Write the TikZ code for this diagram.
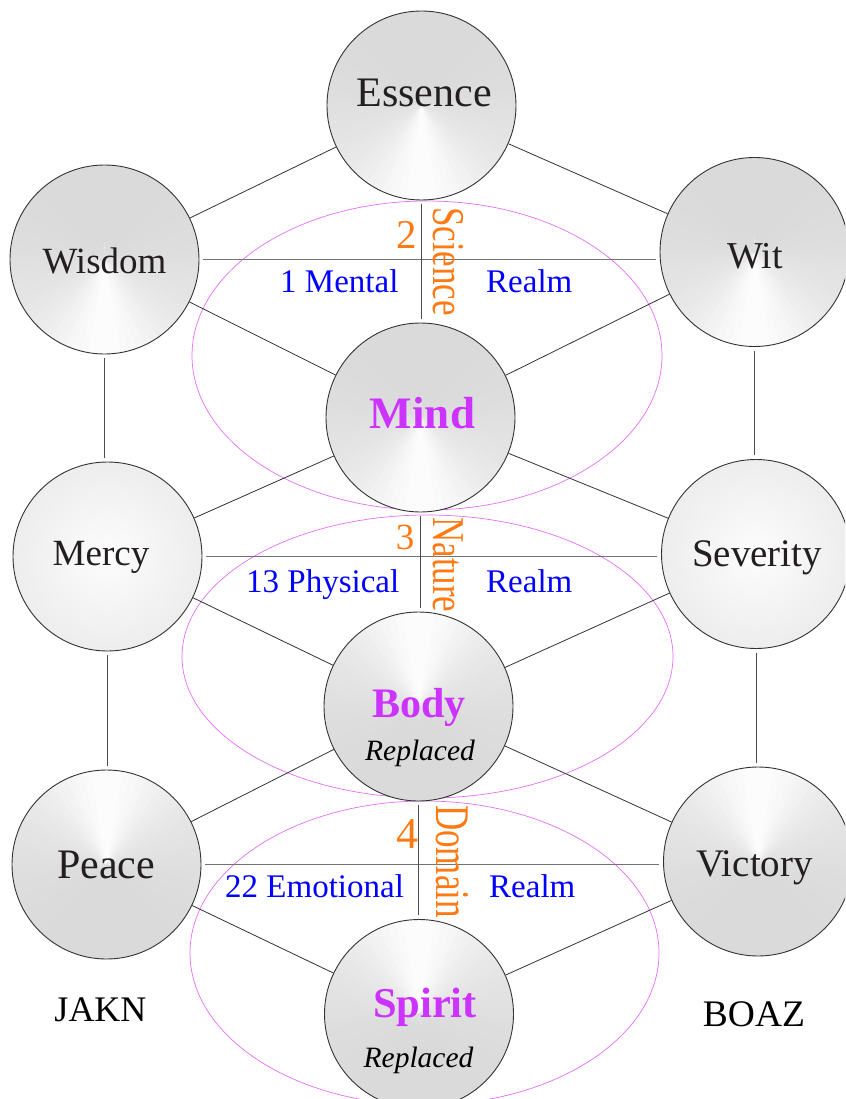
\documentclass[tikz,border=0pt]{standalone}
\usepackage{fontspec}
\setmainfont{Liberation Serif}
\usepackage{graphicx}
\usetikzlibrary{shapes.geometric}
\pgfdeclarelayer{background}
\pgfdeclarelayer{fills}
\pgfsetlayers{background,fills,main}
\definecolor{mag}{RGB}{204,51,255}
\definecolor{ellc}{RGB}{228,110,246}
\definecolor{blu}{RGB}{0,0,255}
\definecolor{org}{RGB}{255,122,20}
\definecolor{txt}{RGB}{35,31,32}
\pgfdeclareradialshading{softrad}{\pgfpoint{0bp}{0bp}}{color(0bp)=(white!99!black); color(50bp)=(white!87!black)}
% conical fill: #1 node name, #2 angle (picture coordinates) of the bright streak
\newcommand\conefill[2]{%
  \foreach \a in {0,5,...,355}{%
    \pgfmathsetmacro\cc{(1+cos(\a+2.5-#2))/2}%
    \pgfmathsetmacro\g{85.5+8*\cc^2+5.5*\cc^12}%
    \fill[white!\g!black] (#1.center) -- ++(\a:94.5) arc[start angle=\a, end angle=\a+5.8, radius=94.5] -- cycle;
  }}
\begin{document}
\begin{tikzpicture}[x=1pt,y=-1pt,
  ball/.style={circle, draw=black!80, line width=0.9pt, minimum size=189pt, inner sep=0pt},
  brad/.style={ball, shade, shading=softrad},
  link/.style={draw=black!80, line width=0.8pt},
  hlink/.style={draw=black!55, line width=1.1pt, shorten <=4pt, shorten >=4pt},
  vlink/.style={draw=black!70, line width=0.9pt, shorten <=4pt, shorten >=4pt},
  realm/.style={ellipse, draw=ellc, line width=0.7pt, inner sep=0pt},
  tx/.style={inner sep=0pt, anchor=base, text=txt},
  nm/.style={inner sep=0pt, anchor=base, text=mag, font=\bfseries},
  rp/.style={inner sep=0pt, anchor=base, text=black, font=\itshape\fontsize{29.5}{34}\selectfont},
  bl/.style={inner sep=0pt, anchor=base west, text=blu, font=\fontsize{33}{38}\selectfont},
  num/.style={inner sep=0pt, anchor=base, text=org},
  rot/.style={inner sep=0pt, anchor=base west, rotate=-90, text=org, font=\fontsize{35}{40}\selectfont}
]
\useasboundingbox (0,0) rectangle (845,1099);
\clip (0,0) rectangle (845,1099);

% circles
\node[ball] (Essence) at (421.5,105.5) {};
\node[ball] (Wisdom) at (104.5,259.5) {};
\node[ball] (Wit) at (754.5,252) {};
\node[ball] (Mind) at (420.5,417.5) {};
\node[brad] (Mercy) at (107.5,556.5) {};
\node[brad] (Severity) at (756,554) {};
\node[ball] (Body) at (418.5,706.5) {};
\node[ball] (Peace) at (106.5,864.5) {};
\node[ball] (Victory) at (758,861.5) {};
\node[ball] (Spirit) at (419,1014) {};

\begin{pgfonlayer}{fills}
\conefill{Essence}{90}
\conefill{Wisdom}{90}
\conefill{Wit}{90}
\conefill{Mind}{90}
\conefill{Body}{270}
\conefill{Peace}{270}
\conefill{Victory}{270}
\conefill{Spirit}{270}
\end{pgfonlayer}

\begin{pgfonlayer}{background}
% realm ellipses
\node[realm, minimum width=470pt, minimum height=309pt] (realmA) at (427,355.5) {};
\node[realm, minimum width=491pt, minimum height=283pt] (realmB) at (427.5,656.5) {};
\node[realm, minimum width=469pt, minimum height=304pt] (realmC) at (424.5,953) {};
% diagonal links
\draw[link] (Essence) -- (Wisdom);
\draw[link] (Essence) -- (Wit);
\draw[link] (Wisdom) -- (Mind);
\draw[link] (Wit) -- (Mind);
\draw[link] (Mind) -- (Mercy);
\draw[link] (Mind) -- (Severity);
\draw[link] (Mercy) -- (Body);
\draw[link] (Severity) -- (Body);
\draw[link] (Body) -- (Peace);
\draw[link] (Body) -- (Victory);
\draw[link] (Peace) -- (Spirit);
\draw[link] (Victory) -- (Spirit);
% horizontal links
\draw[hlink] (Wisdom.east) -- (Wisdom.east -| Wit.west);
\draw[hlink] (Mercy.east) -- (Mercy.east -| Severity.west);
\draw[hlink] (Peace.east) -- (Peace.east -| Victory.west);
% vertical links
\draw[vlink] (Essence.south) -- (Essence.south |- Mind.north);
\draw[vlink] (Mind.south) -- (Mind.south |- Body.north);
\draw[vlink] (Body.south) -- (Body.south |- Spirit.north);
\draw[vlink] (Wisdom.south) -- (Wisdom.south |- Mercy.north);
\draw[vlink] (Mercy.south) -- (Mercy.south |- Peace.north);
\draw[vlink] (Wit.south) -- (Wit.south |- Severity.north);
\draw[vlink] (Severity.south) -- (Severity.south |- Victory.north);
\end{pgfonlayer}

% circle texts
\node[tx, font=\fontsize{42}{48}\selectfont] (tEssence) at (424,107) {Essence};
\node[tx, font=\fontsize{37}{42}\selectfont] (tWisdom) at (104.5,273) {Wisdom};
\node[tx, font=\fontsize{38}{44}\selectfont] (tWit) at (755,268) {Wit};
\node[nm, font=\bfseries\fontsize{45}{52}\selectfont] (tMind) at (422.5,428) {Mind};
\node[tx, font=\fontsize{37}{42}\selectfont] (tMercy) at (101,565) {Mercy};
\node[tx, font=\fontsize{39}{45}\selectfont] (tSeverity) at (757,566) {Severity};
\node[nm, font=\bfseries\fontsize{42}{48}\selectfont] (tBody) at (419,717) {Body};
\node[rp] (tRepB) at (420,760) {Replaced};
\node[tx, font=\fontsize{42}{48}\selectfont] (tPeace) at (106,878) {Peace};
\node[tx, font=\fontsize{39}{45}\selectfont] (tVictory) at (754.5,876) {Victory};
\node[nm, font=\bfseries\fontsize{42.5}{48}\selectfont] (tSpirit) at (425,1017) {Spirit};
\node[rp] (tRepS) at (418.5,1067) {Replaced};
\node[inner sep=0pt, anchor=base, text=black, font=\fontsize{36}{42}\selectfont] (jakn) at (100.5,1021) {JAKN};
\node[inner sep=0pt, anchor=base, text=black, font=\fontsize{37.5}{43}\selectfont] (boaz) at (754,1026) {BOAZ};

% realm labels
\node[bl] (m1) at (280,292) {1 Mental};
\node[bl] (r1) at (486,292) {Realm};
\node[bl] (m2) at (246,592) {13 Physical};
\node[bl] (r2) at (486,592) {Realm};
\node[bl] (m3) at (225,897) {22 Emotional};
\node[bl] (r3) at (489,897) {Realm};

% numbers
\node[num, font=\fontsize{41}{46}\selectfont] (n2) at (407,248) {2};
\node[num, font=\fontsize{37}{42}\selectfont] (n3) at (405,549) {3};
\node[num, font=\fontsize{44}{50}\selectfont] (n4) at (407,848) {4};

% rotated words
\node[rot] (sci) at (433,207) {\scalebox{1}[1.3]{Science}};
\node[rot] (nat) at (433,517) {\scalebox{1}[1.3]{Nature}};
\node[rot] (dom) at (436,805) {\scalebox{1}[1.38]{Domain}};
\end{tikzpicture}
\end{document}
